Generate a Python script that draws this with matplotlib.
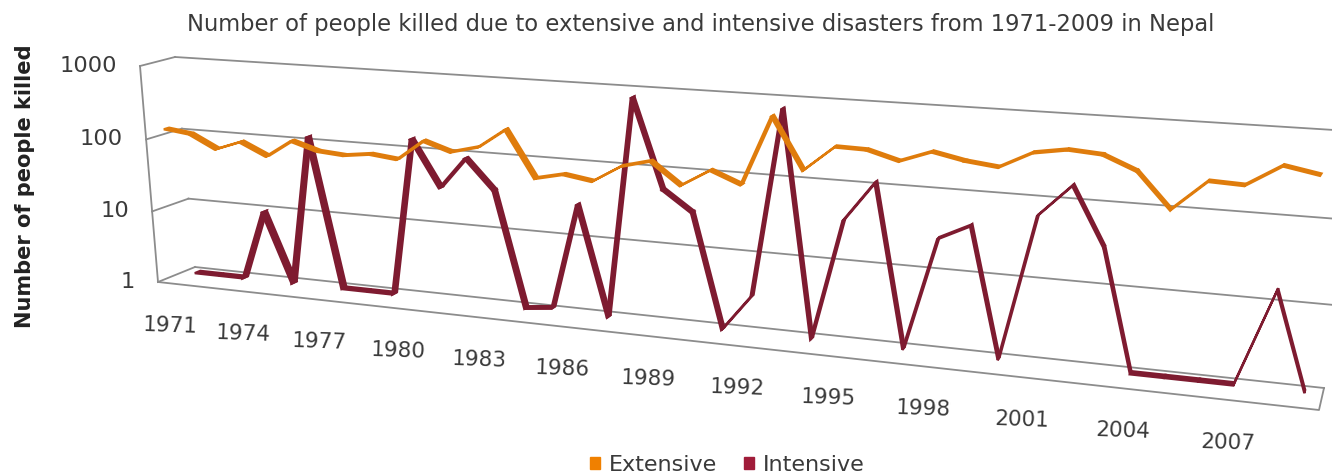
import matplotlib
matplotlib.use("Agg")
import matplotlib.pyplot as plt
from matplotlib.patches import Patch
import numpy as np

# values
years = list(range(1971, 2010))
extensive = [134, 121, 80, 107, 73, 125, 97, 91, 101, 92, 172, 131, 162, 291, 73, 88, 77, 128, 159, 84,
             140, 99, 736, 171, 354, 347, 271, 374, 311, 281, 444, 513, 481, 332, 128, 293, 282, 502, 423]
intensive = [1, 1, 1, 9.4, 1, 118, 1, 1, 1, 142, 34, 90, 36, 1, 1.1, 29, 1, 787, 57, 31,
             1, 3, 758, 1, 36, 115, 1, 27, 42, 1, 65, 161, 32, 1, 1, 1, 1, 15, 1]
value_ticks = [1, 10, 100, 1000]
year_ticks = years[::3]
title = "Number of people killed due to extensive and intensive disasters from 1971-2009 in Nepal"

ORANGE = "#DF7C0C"
MAROON = "#7E1B30"
GRID = "#8C8C8C"
TEXT = "#3A3A3A"


def homography(corners):
    # corners are for (u,w) = (0,0), (1,0), (1,3), (0,3)
    src = [(0, 0), (1, 0), (1, 3), (0, 3)]
    A, b = [], []
    for (u, w), (x, y) in zip(src, corners):
        A.append([u, w, 1, 0, 0, 0, -u * x, -w * x])
        A.append([0, 0, 0, u, w, 1, -u * y, -w * y])
        b += [x, y]
    return np.append(np.linalg.solve(np.array(A, float), np.array(b, float)), 1).reshape(3, 3)


back = homography([(195, 267), (1324, 388), (1350, 131), (175, 57)])
front = homography([(158, 282), (1319, 410), (1340, 146), (140, 66)])


def apply(H, u, w):
    p = H @ np.vstack([u, w, np.ones_like(u)])
    return p[0] / p[2], p[1] / p[2]


# depth 0 is the front of the box, depth 1 the back wall
def project(u, value, depth):
    u = np.atleast_1d(np.asarray(u, float))
    w = np.log10(np.atleast_1d(np.asarray(value, float)))
    x0, y0 = apply(front, u, w)
    x1, y1 = apply(back, u, w)
    return x0 + (x1 - x0) * depth, y0 + (y1 - y0) * depth


def cat_u(i):
    return (np.asarray(i, float) + 0.5) / len(years)


def ribbon(ax, values, depth, color, half=0.075):
    u = cat_u(np.arange(len(values)))
    xa, ya = project(u, values, depth - half)
    xb, yb = project(u, values, depth + half)
    for i in range(len(values) - 1):
        ax.fill([xa[i], xa[i + 1], xb[i + 1], xb[i]], [ya[i], ya[i + 1], yb[i + 1], yb[i]],
                color=color, lw=1.7, zorder=3 + (1 - depth))


fig = plt.figure(figsize=(13.32, 4.76), dpi=100)
ax = fig.add_axes([0, 0, 1, 1])
ax.set_xlim(0, 1332)
ax.set_ylim(476, 0)
ax.axis("off")

# box: side wall and back wall gridlines
for v in value_ticks:
    x, y = project([0, 0], [v, v], [0, 1])
    ax.plot(x, y, color=GRID, lw=1.3, zorder=1)
    x, y = project([0, 1], [v, v], [1, 1])
    ax.plot(x, y, color=GRID, lw=1.3, zorder=1)
    x, y = project(0, v, 0)
    ax.text(x[0] - 23, y[0], str(v), ha="right", va="center", fontsize=16.2, color=TEXT)

# front left edge and the floor
x, y = project([0, 0], [1, 1000], [0, 0])
ax.plot(x, y, color=GRID, lw=1.3, zorder=1)
x, y = project([0, 1, 1], [1, 1, 1], [0, 0, 1])
ax.plot(x, y, color=GRID, lw=1.3, zorder=1)

ribbon(ax, intensive, 0.75, MAROON)
ribbon(ax, extensive, 0.25, ORANGE)

# year labels under the front edge
for yr in year_ticks:
    x, y = project(cat_u(years.index(yr)), 1, 0)
    ax.text(x[0], y[0] + 42.5, str(yr), ha="center", va="center",
            fontsize=15.5, color=TEXT, rotation=-2)

ax.text(701, 25, title, ha="center", va="center", fontsize=16.3, color=TEXT)
ax.text(25, 186, "Number of people killed", rotation=90, ha="center", va="center",
        fontsize=15.1, fontweight="bold", color="#222222")

handles = [Patch(color="#F08000", label="Extensive"), Patch(color="#A01C3A", label="Intensive")]
leg = ax.legend(handles=handles, ncol=2, frameon=False, loc="center", bbox_to_anchor=(727 / 1332, 1 - 465 / 476),
                fontsize=16, handlelength=0.45, handleheight=0.45, handletextpad=0.4, columnspacing=1.2,
                labelcolor=TEXT)

fig.savefig("out.png", dpi=100)
